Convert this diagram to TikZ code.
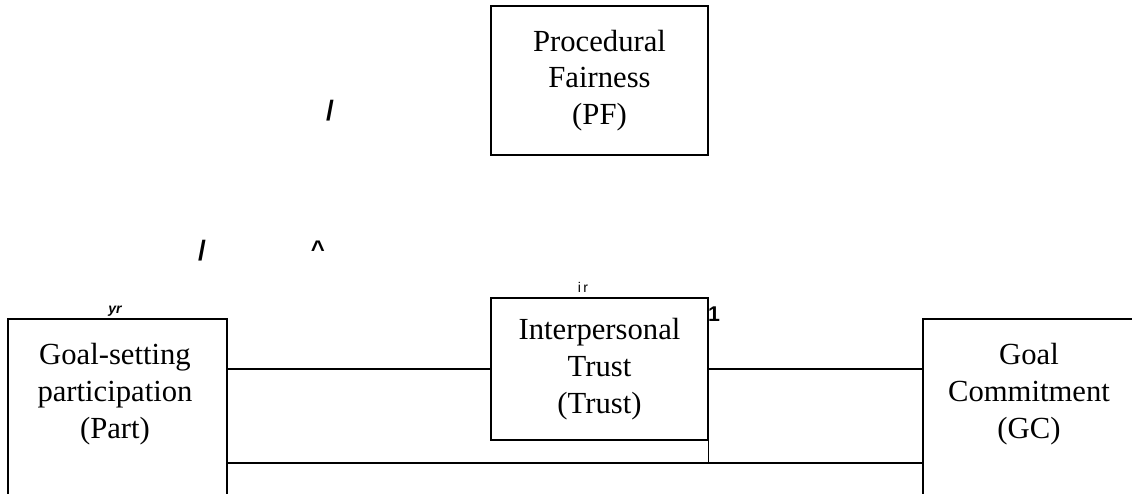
\documentclass[tikz,border=0pt]{standalone}
\usepackage{fontspec}
\setmainfont{Liberation Serif}
\newfontfamily\labelfont{Liberation Sans}
\begin{document}
\begin{tikzpicture}[x=0.75pt, y=-0.75pt,
    box/.style={draw, line width=0.9pt, rectangle, align=center, inner sep=0pt,
      font=\fontsize{23}{27.5}\selectfont},
    boxtext/.style={align=center, font=\fontsize{23}{27.5}\selectfont},
    stray/.style={font=\labelfont\bfseries\fontsize{21}{21}\selectfont, inner sep=0pt},
    small/.style={font=\labelfont\fontsize{10.5}{10.5}\selectfont, inner sep=0pt}]
    \useasboundingbox (0,0) rectangle (1132,493);
    \clip (0,0) rectangle (1132,493);
    \node[box, minimum width=162.75pt, minimum height=111.75pt] (pf) at (599.5,80.5) {Procedural\\Fairness\\(PF)};
    \node[box, minimum width=162.75pt, minimum height=106.5pt] (trust) at (599.5,369) {Interpersonal\\Trust\\(Trust)};
    \node[box, minimum width=164.25pt, minimum height=165.75pt] (part) at (117.5,429.5) {};
    \node[box, minimum width=177.75pt, minimum height=165.75pt] (gc) at (1041.5,429.5) {};
    \node[boxtext] (parttext) at (115,394) {Goal-setting\\participation\\(Part)};
    \node[boxtext] (gctext) at (1029,394) {Goal\\Commitment\\(GC)};
    \node[stray] (slash1) at (330,111) {/};
    \node[stray] (slash2) at (202,251) {/};
    \node[stray, font=\labelfont\bfseries\fontsize{18}{18}\selectfont] (caret) at (318,249) {\textasciicircum};
    \node[small, font=\labelfont\bfseries\itshape\fontsize{10.5}{10.5}\selectfont] (yr) at (115,311) {yr};
    \node[small] (ir) at (583,287) {i\,r};
    \node[stray, font=\labelfont\bfseries\fontsize{16}{16}\selectfont] (one) at (714,314) {1};
    \coordinate (join) at (trust.south east |- 0,463);
    \draw[line width=0.9pt] (part.east |- trust.west) -- (trust.west);
    \draw[line width=0.9pt] (trust.east) -- (gc.west |- trust.east);
    \draw[line width=0.9pt] (part.east |- join) -- (gc.west |- join);
    \draw[line width=0.9pt] (trust.south east) -- (join);
\end{tikzpicture}
\end{document}
